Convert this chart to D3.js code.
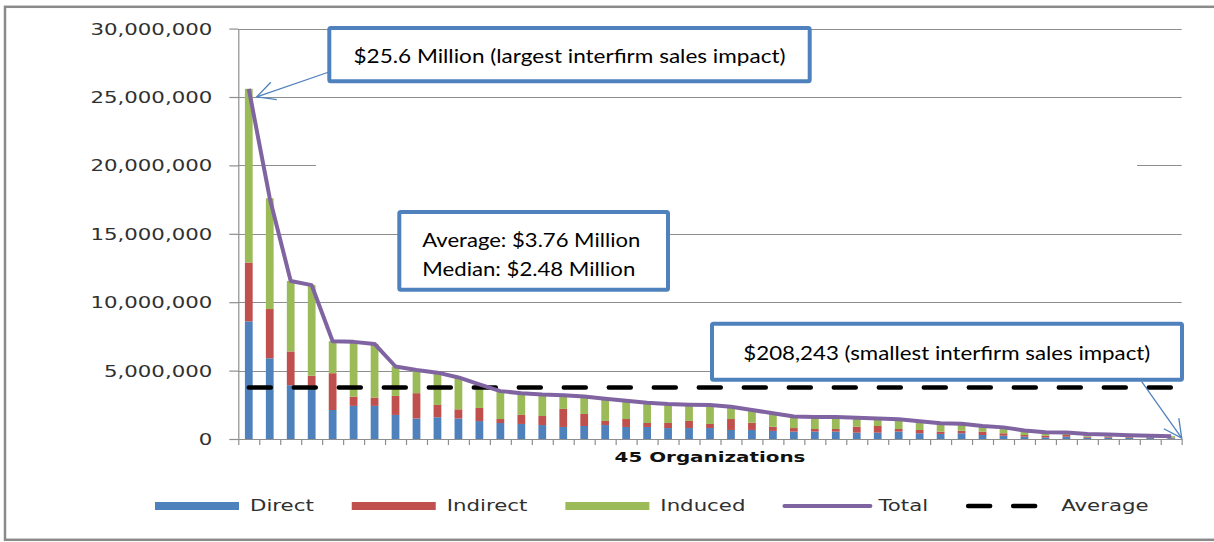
<!DOCTYPE html>
<html>
<head>
<meta charset="utf-8">
<script src="https://cdn.jsdelivr.net/npm/d3@7"></script>
<style>
    body { margin: 0; background: #fff; }
    svg { display: block; }
</style>
</head>
<body>
<svg id="chart" width="1214" height="542"></svg>
<script>
// interfirm sales impact per organisation, millions of dollars (sorted by total)
const direct = [8.6, 5.9, 3.93, 3.9, 2.12, 2.42, 2.42, 1.76, 1.5, 1.59, 1.5, 1.31, 1.17, 1.1, 1.02,
    0.88, 0.95, 1.02, 0.88, 0.88, 0.8, 0.8, 0.8, 0.66, 0.66, 0.59, 0.54, 0.54, 0.54, 0.46,
    0.46, 0.54, 0.42, 0.37, 0.42, 0.29, 0.24, 0.17, 0.12, 0.17, 0.1, 0.1, 0.08, 0.07, 0.06];
const indirect = [4.3, 3.6, 2.47, 0.73, 2.69, 0.68, 0.61, 1.39, 1.85, 0.9, 0.67, 0.96, 0.29, 0.66, 0.66,
    1.32, 0.88, 0.3, 0.58, 0.29, 0.37, 0.52, 0.3, 0.8, 0.53, 0.31, 0.26, 0.19, 0.19, 0.44,
    0.49, 0.19, 0.24, 0.17, 0.18, 0.25, 0.18, 0.12, 0.12, 0.12, 0.07, 0.07, 0.05, 0.04, 0.04];
const induced = [12.7, 8.1, 5.15, 6.62, 2.34, 4.0, 3.92, 2.15, 1.7, 2.36, 2.33, 1.73, 2.04, 1.59, 1.57,
    1.0, 1.27, 1.63, 1.34, 1.48, 1.38, 1.18, 1.38, 0.89, 0.93, 0.98, 0.85, 0.87, 0.87, 0.65,
    0.55, 0.72, 0.64, 0.61, 0.52, 0.41, 0.43, 0.33, 0.26, 0.19, 0.19, 0.16, 0.14, 0.13, 0.108];
const average = 3.76;

const yTicks = [0, 5, 10, 15, 20, 25, 30];
const seriesNames = ['Direct', 'Indirect', 'Induced'];
const seriesColors = ['#4F81BD', '#C0504D', '#9BBB59'];
const legendNames = ['Direct', 'Indirect', 'Induced', 'Total', 'Average'];
const xTitle = '45 Organizations';

const noteMax = ['$25.6 Million (largest interfirm sales impact)'];
const noteStats = ['Average: $3.76 Million', 'Median: $2.48 Million'];
const noteMin = ['$208,243 (smallest interfirm sales impact)'];

const blue = '#4F81BD', purple = '#8064A2', grid = '#8e8e8e', ink = '#303030';
const textStretch = 1.42; // the original picture is stretched sideways
const labelFont = '"DejaVu Sans", Verdana, sans-serif';
const noteFont = 'Lato, "Open Sans", sans-serif';

// data
const data = direct.map((d, i) => ({
    id: i + 1,
    Direct: d,
    Indirect: indirect[i],
    Induced: induced[i]
}));
const stacked = d3.stack().keys(seriesNames)(data);
const totals = data.map(d => d.Direct + d.Indirect + d.Induced);

// scales
const x = d3.scaleBand()
    .domain(data.map(d => d.id))
    .range([238.3, 1181.7])
    .paddingInner(0.63)
    .paddingOuter(0.315);
const xEdge = d3.scaleLinear()
    .domain([0, data.length])
    .range(x.range());
const y = d3.scaleLinear()
    .domain([0, 30])
    .range([439, 28.6]);
const cx = d => x(d) + x.bandwidth() / 2;

const svg = d3.select('#chart');

// gridlines
svg.append('g')
    .attr('class', 'grid')
    .selectAll('line')
    .data(yTicks.filter(d => d > 0))
    .join('line')
    .attr('x1', x.range()[0])
    .attr('x2', x.range()[1])
    .attr('y1', d => Math.round(y(d)) + 0.5)
    .attr('y2', d => Math.round(y(d)) + 0.5)
    .attr('stroke', grid)
    .attr('stroke-width', 1.2);

// blank shape that sits over part of the 20M gridline in the original
svg.append('rect')
    .attr('x', 316)
    .attr('y', y(20) - 4)
    .attr('width', 821)
    .attr('height', 8)
    .attr('fill', '#fff');

// stacked bars
svg.append('g')
    .attr('class', 'bars')
    .selectAll('g')
    .data(stacked)
    .join('g')
    .attr('fill', (d, i) => seriesColors[i])
    .selectAll('rect')
    .data(d => d)
    .join('rect')
    .attr('x', d => x(d.data.id))
    .attr('width', x.bandwidth())
    .attr('y', d => y(d[1]))
    .attr('height', d => y(d[0]) - y(d[1]));

// average (dashed)
svg.append('line')
    .attr('x1', cx(1))
    .attr('x2', cx(data.length))
    .attr('y1', y(average))
    .attr('y2', y(average))
    .attr('stroke', '#000')
    .attr('stroke-width', 4.5)
    .attr('stroke-linecap', 'round')
    .attr('stroke-dasharray', '22,23');

// total line
svg.append('path')
    .datum(totals)
    .attr('fill', 'none')
    .attr('stroke', purple)
    .attr('stroke-width', 4)
    .attr('stroke-linejoin', 'round')
    .attr('d', d3.line()
        .x((d, i) => cx(i + 1))
        .y(d => y(d)));

// axes
const yAxis = svg.append('g')
    .attr('transform', `translate(${x.range()[0]},0)`)
    .call(d3.axisLeft(y)
        .tickValues(yTicks)
        .tickSize(9)
        .tickSizeOuter(0)
        .tickFormat(d => d3.format(',')(d * 1e6)));
yAxis.selectAll('line, path').attr('stroke', grid).attr('stroke-width', 1.2);
yAxis.selectAll('text')
    .attr('x', -26 / textStretch)
    .attr('dy', '0.36em')
    .attr('transform', `scale(${textStretch},1)`)
    .attr('font-family', labelFont)
    .attr('font-size', 15)
    .attr('fill', ink);

const xAxis = svg.append('g')
    .attr('transform', `translate(0,${y(0)})`)
    .call(d3.axisBottom(xEdge)
        .tickValues(d3.range(data.length + 1))
        .tickSize(6)
        .tickSizeOuter(0)
        .tickFormat(''));
xAxis.selectAll('line, path').attr('stroke', grid).attr('stroke-width', 1.2);

svg.append('text')
    .attr('transform', `translate(${d3.mean(x.range())},462) scale(${textStretch},1)`)
    .attr('text-anchor', 'middle')
    .attr('font-family', labelFont)
    .attr('font-weight', 'bold')
    .attr('font-size', 14)
    .attr('fill', '#111')
    .text(xTitle);

// arrowhead
svg.append('defs')
    .append('marker')
    .attr('id', 'arrow')
    .attr('markerUnits', 'userSpaceOnUse')
    .attr('markerWidth', 24)
    .attr('markerHeight', 24)
    .attr('refX', 20)
    .attr('refY', 10)
    .attr('orient', 'auto')
    .append('path')
    .attr('d', 'M2,0.8 L20,10 L2,19.2')
    .attr('fill', 'none')
    .attr('stroke', blue)
    .attr('stroke-width', 1.3);

const arrow = (x1, y1, x2, y2) => svg.append('line')
    .attr('x1', x1).attr('y1', y1)
    .attr('x2', x2).attr('y2', y2)
    .attr('stroke', blue)
    .attr('stroke-width', 1.3)
    .attr('marker-end', 'url(#arrow)');

arrow(329, 72, cx(1) + 8, y(totals[0]) + 8);
arrow(1141.7, 381.7, x.range()[1], y(totals[totals.length - 1]) + 2);

// annotation boxes
const noteBox = (bx, by, bw, bh, lines, opts) => {
    const g = svg.append('g');
    g.append('rect')
        .attr('x', bx).attr('y', by)
        .attr('width', bw).attr('height', bh)
        .attr('rx', 1.5)
        .attr('fill', '#fff')
        .attr('stroke', blue)
        .attr('stroke-width', 4);
    g.selectAll('text')
        .data(lines)
        .join('text')
        .attr('x', opts.x)
        .attr('y', (d, i) => opts.y + i * 29.3)
        .attr('text-anchor', opts.anchor)
        .attr('font-family', noteFont)
        .attr('font-size', 20)
        .attr('fill', '#000')
        .attr('textLength', (d, i) => opts.len[i])
        .attr('lengthAdjust', 'spacingAndGlyphs')
        .text(d => d);
};

noteBox(329.3, 28, 480.4, 53.3, noteMax, { x: 569.5, y: 62.7, anchor: 'middle', len: [432] });
noteBox(399.3, 212, 268.7, 77.7, noteStats, { x: 422.3, y: 246.7, anchor: 'start', len: [218, 213] });
noteBox(712, 323.7, 470, 56, noteMin, { x: 946.8, y: 360, anchor: 'middle', len: [407] });

// legend
const legend = svg.append('g').attr('class', 'legend');
let cursor = 155;
legendNames.forEach((name, i) => {
    const g = legend.append('g').attr('transform', `translate(${cursor},506)`);
    if (i < 3) {
        g.append('rect')
            .attr('x', 0).attr('y', -4)
            .attr('width', 84).attr('height', 8)
            .attr('fill', seriesColors[i]);
    } else if (name === 'Total') {
        g.append('line')
            .attr('x1', 1).attr('x2', 87)
            .attr('stroke', purple)
            .attr('stroke-width', 4)
            .attr('stroke-linecap', 'round');
    } else {
        g.append('line')
            .attr('x1', 2).attr('x2', 70)
            .attr('stroke', '#000')
            .attr('stroke-width', 4.5)
            .attr('stroke-linecap', 'round')
            .attr('stroke-dasharray', '22,23');
    }
    const t = g.append('text')
        .attr('transform', `translate(95,0) scale(${textStretch},1)`)
        .attr('dy', '0.36em')
        .attr('font-family', labelFont)
        .attr('font-size', 15)
        .attr('fill', ink)
        .text(name);
    cursor += 95 + t.node().getComputedTextLength() * textStretch + 38;
});

// outer frame
svg.append('rect')
    .attr('x', 5)
    .attr('y', 6.8)
    .attr('width', 1230)
    .attr('height', 533)
    .attr('fill', 'none')
    .attr('stroke', '#8a8a8a')
    .attr('stroke-width', 2.5);
</script>
</body>
</html>
